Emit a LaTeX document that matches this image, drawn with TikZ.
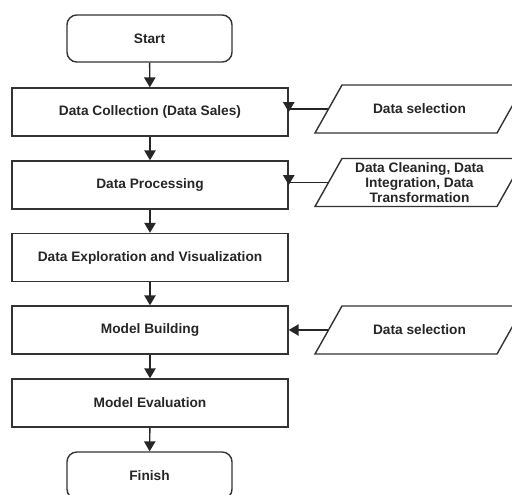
\documentclass[tikz,border=0pt]{standalone}
\usepackage{fontspec}
\setmainfont{Liberation Sans}
\usetikzlibrary{arrows.meta}
\begin{document}
\begin{tikzpicture}[x=0.025cm, y=-0.025cm,
  every node/.style={font=\fontsize{9.75}{10.7}\selectfont\bfseries, text=black!85},
  terminal/.style={rectangle, rounded corners=7pt, draw=black!80, line width=1pt, minimum width=4.125cm, minimum height=1.175cm, inner sep=0pt},
  process/.style={rectangle, draw=black!80, line width=1pt, minimum width=6.9cm, minimum height=1.2cm, inner sep=0pt},
  data/.style={rectangle, minimum width=4.55cm, minimum height=1.2cm, inner sep=0pt, align=center},
  outline/.style={draw=black!80, line width=1pt, line join=miter},
  flow/.style={-{Triangle[length=7pt,width=8pt]}, line width=1pt, draw=black!85}]
\clip (0,0) rectangle (512,494);
\node[terminal] (start) at (149.5, 38.5) {Start};
\node[process] (coll) at (150, 112) {Data Collection (Data Sales)};
\node[process] (proc) at (150, 185) {Data Processing};
\node[process] (expl) at (150, 257.5) {Data Exploration and Visualization};
\node[process] (build) at (150, 330) {Model Building};
\node[process] (eval) at (150, 403) {Model Evaluation};
\node[terminal] (finish) at (149.5, 475.5) {Finish};
\node[data] (sel1) at (419.5, 109) {Data selection};
\node[data] (clean) at (419.5, 182.5) {Data Cleaning, Data\\Integration, Data\\Transformation};
\node[data] (sel2) at (419.5, 330) {Data selection};
\foreach \n in {sel1, clean, sel2}
  \draw[outline] (\n.center) ++(-104.5, 24) -- ++(27, -48) -- ++(182, 0) -- ++(-27, 48) -- cycle;
\draw[flow] (start) -- (coll);
\draw[flow] (coll) -- (proc);
\draw[flow] (proc) -- (expl);
\draw[flow] (expl) -- (build);
\draw[flow] (build) -- (eval);
\draw[flow] (eval) -- (finish);
\draw[flow] (sel1.west) -| (coll.east);
\draw[flow] (clean.west) -| (proc.east);
\draw[flow] (sel2.west) -- (build.east);
\end{tikzpicture}
\end{document}
